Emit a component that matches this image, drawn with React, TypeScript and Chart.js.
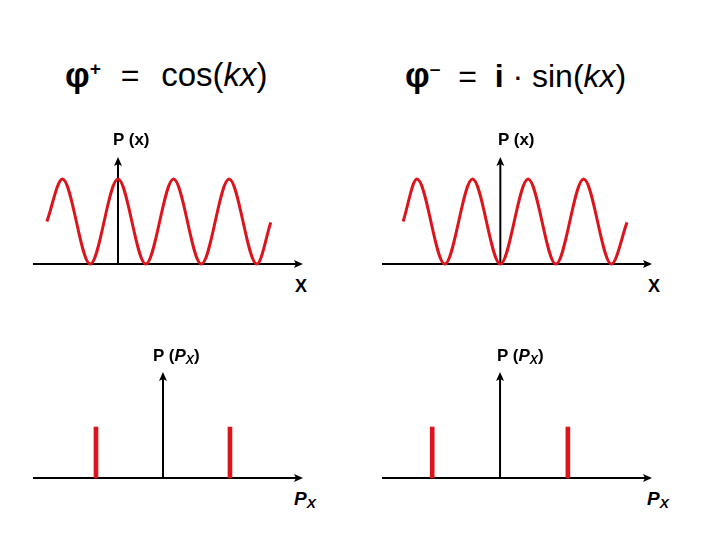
import React, { useEffect, useRef } from "react";
import { Chart, registerables } from "chart.js";

Chart.register(...registerables);

// ---- data (x in units of kx/π for P(x), in units of ħk for P(Px)) ----
const cosX = [-1.28, -1, -0.5, 0, 0.5, 1, 1.5, 2, 2.5, 2.75];
const cosP = [0.5, 1, 0, 1, 0, 1, 0, 1, 0, 0.49];
const sinX = [-1.75, -1.5, -1, -0.5, 0, 0.5, 1, 1.5, 2, 2.28];
const sinP = [0.5, 1, 0, 1, 0, 1, 0, 1, 0, 0.49];
const momentumX = [-1, 1];
const momentumCosP = [1, 1];
const momentumSinP = [1, 1];

const RED = "#dc141c";
const FONT = '"Liberation Sans", Arial, Helvetica, sans-serif';

const axesPlugin = {
  id: "arrowAxes",
  beforeDatasetsDraw(chart: any) {
    const { ctx, chartArea, scales } = chart;
    const y0 = scales.y.getPixelForValue(0);
    const x0 = scales.x.getPixelForValue(0);
    ctx.save();
    ctx.strokeStyle = "#000";
    ctx.fillStyle = "#000";
    ctx.lineWidth = 2;
    // horizontal axis
    ctx.beginPath();
    ctx.moveTo(chartArea.left, y0);
    ctx.lineTo(chartArea.right - 5, y0);
    ctx.stroke();
    ctx.beginPath();
    ctx.moveTo(chartArea.right, y0);
    ctx.lineTo(chartArea.right - 9, y0 - 4);
    ctx.lineTo(chartArea.right - 7, y0);
    ctx.lineTo(chartArea.right - 9, y0 + 4);
    ctx.closePath();
    ctx.fill();
    // vertical axis
    ctx.beginPath();
    ctx.moveTo(x0, y0);
    ctx.lineTo(x0, chartArea.top + 5);
    ctx.stroke();
    ctx.beginPath();
    ctx.moveTo(x0, chartArea.top);
    ctx.lineTo(x0 - 4, chartArea.top + 9);
    ctx.lineTo(x0, chartArea.top + 7);
    ctx.lineTo(x0 + 4, chartArea.top + 9);
    ctx.closePath();
    ctx.fill();
    ctx.restore();
  },
};

type PanelProps = {
  left: number;
  top: number;
  width: number;
  height: number;
  xMin: number;
  xMax: number;
  yMax: number;
  kind: "line" | "bar";
  xs: number[];
  ys: number[];
};

const PAD = 10;

function Panel(p: PanelProps) {
  const ref = useRef<HTMLCanvasElement | null>(null);
  useEffect(() => {
    if (!ref.current) return;
    const points = p.xs.map((x, i) => ({ x, y: p.ys[i] }));
    const dataset: any =
      p.kind === "line"
        ? {
            type: "line",
            data: points,
            borderColor: RED,
            borderWidth: 3,
            pointRadius: 0,
            cubicInterpolationMode: "monotone",
            fill: false,
            clip: false,
          }
        : {
            type: "bar",
            data: points,
            backgroundColor: RED,
            borderWidth: 0,
            barThickness: 4,
            clip: false,
          };
    const chart = new Chart(ref.current, {
      type: p.kind,
      data: { datasets: [dataset] },
      options: {
        animation: false,
        responsive: false,
        maintainAspectRatio: false,
        devicePixelRatio: 1,
        layout: { padding: PAD },
        plugins: { legend: { display: false }, tooltip: { enabled: false }, title: { display: false } },
        events: [],
        scales: {
          x: { type: "linear", min: p.xMin, max: p.xMax, display: false, offset: false },
          y: { type: "linear", min: 0, max: p.yMax, display: false },
        },
      } as any,
      plugins: [axesPlugin],
    });
    return () => chart.destroy();
  }, []);
  const w = p.width + 2 * PAD;
  const h = p.height + 2 * PAD;
  return (
    <canvas
      ref={ref}
      width={w}
      height={h}
      style={{ position: "absolute", left: p.left - PAD, top: p.top - PAD, width: w, height: h }}
    />
  );
}

function Label(props: { x: number; base: number; size: number; bold?: boolean; children: React.ReactNode }) {
  const { x, base, size, bold, children } = props;
  return (
    <div
      style={{
        position: "absolute",
        left: x,
        top: base - 0.8465 * size,
        fontFamily: FONT,
        fontSize: size,
        lineHeight: `${size}px`,
        fontWeight: bold ? "bold" : "normal",
        whiteSpace: "pre",
        color: "#000",
      }}
    >
      {children}
    </div>
  );
}

const sub = { fontSize: "0.72em", verticalAlign: "-0.25em" } as React.CSSProperties;
const sup = { fontSize: "0.6em", verticalAlign: "0.6em", fontWeight: "bold" } as React.CSSProperties;
const phi = { fontSize: "1.08em", fontWeight: "bold" } as React.CSSProperties;

export default function App() {
  return (
    <div style={{ position: "absolute", left: 0, top: 0, width: 720, height: 540, background: "#fff", overflow: "hidden" }}>
      {/* titles */}
      <Label x={65} base={80} size={32}>
        <span style={phi}>φ</span>
        <span style={sup}>+</span>
        <span style={{ marginLeft: 2 }}>{"  =  "}</span>
        <span style={{ marginLeft: 4, fontSize: 33 }}>
          {"cos("}
          <i>kx</i>
          {")"}
        </span>
      </Label>
      <Label x={405} base={80} size={32}>
        <span style={phi}>φ</span>
        <span style={sup}>–</span>
        {"  =  "}
        <b>i</b>
        {" · sin("}
        <i>kx</i>
        {")"}
      </Label>

      {/* top panels: P(x) */}
      <Panel left={33} top={157} width={270} height={107} xMin={-1.53} xMax={3.33} yMax={1.26} kind="line" xs={cosX} ys={cosP} />
      <Panel left={382} top={157} width={270} height={107} xMin={-2.13} xMax={2.73} yMax={1.26} kind="line" xs={sinX} ys={sinP} />
      <Label x={113} base={145} size={17} bold>
        {"P (x)"}
      </Label>
      <Label x={498} base={145} size={17} bold>
        {"P (x)"}
      </Label>
      <Label x={295} base={292} size={18} bold>
        X
      </Label>
      <Label x={648} base={292} size={18} bold>
        X
      </Label>

      {/* bottom panels: P(Px) */}
      <Panel left={33} top={372} width={270} height={106} xMin={-1.94} xMax={2.09} yMax={2.08} kind="bar" xs={momentumX} ys={momentumCosP} />
      <Panel left={382} top={372} width={270} height={106} xMin={-1.74} xMax={2.24} yMax={2.08} kind="bar" xs={momentumX} ys={momentumSinP} />
      <Label x={153} base={361} size={17} bold>
        {"P ("}
        <i>P</i>
        <i style={sub}>X</i>
        {")"}
      </Label>
      <Label x={497} base={361} size={17} bold>
        {"P ("}
        <i>P</i>
        <i style={sub}>X</i>
        {")"}
      </Label>
      <Label x={294} base={505} size={19} bold>
        <i>P</i>
        <i style={sub}>X</i>
      </Label>
      <Label x={647} base={505} size={19} bold>
        <i>P</i>
        <i style={sub}>X</i>
      </Label>
    </div>
  );
}
